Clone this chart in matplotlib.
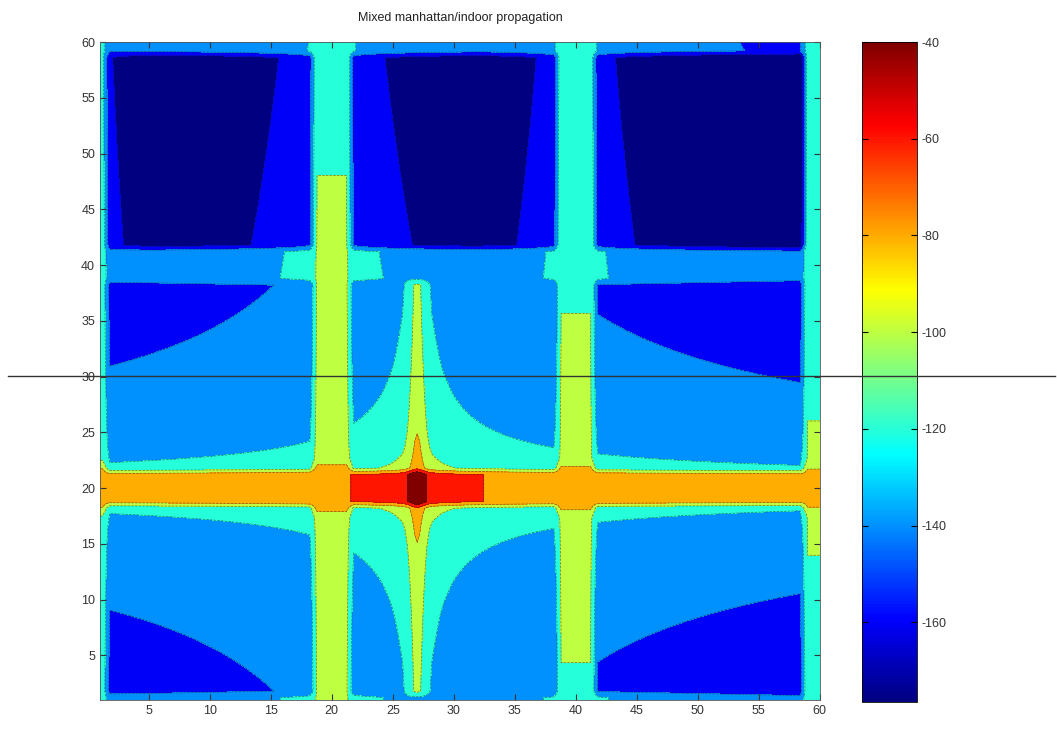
import numpy as np
import matplotlib
matplotlib.use("Agg")
import matplotlib.pyplot as plt
from matplotlib.colors import Normalize, ListedColormap
from matplotlib.lines import Line2D

# map layout (metres), transmitter in the main street
cells = np.arange(1, 61)
tx = (27, 20)
main_street = (18.5, 21.5)
cross_streets_x = [(0, 1.5), (18.5, 21.5), (38.5, 41.5), (58.7, 61)]
cross_centre = [1, 20, 40, 60]
cross_half = [0, 1, 1, 0.5]
corner_loss = [29.5, 29.3, 28.3, 24.0]
cross_feeds_indoor = [True, True, True, False]
side_streets_y = [(0, 1.5), (38.5, 41.5), (58.8, 61)]
side_row_feeders = [1, 2]  # reached round the corner from the x=20 / x=40 streets
blocks_x = [(1.5, 18.5), (21.5, 38.5), (41.5, 58.7)]
blocks_y = [(1.5, 18.5), (21.5, 38.5), (41.5, 58.8)]

# propagation parameters (dB) fitted to the picture
los_ref = -46.8
los_exp = 18.0
tx_cell_level = -18.0
street_decay = 0.31
corner_ramp = 1.0
side_corner_loss = 10.9
side_exp = 19.1
wall_loss = 41.5
indoor_exp = 26.0

levels = [-160, -140, -120, -100, -80, -60, -40]
clim = (-176.5, -40)
cbar_ticks = [-160, -140, -120, -100, -80, -60, -40]
xy_ticks = [5, 10, 15, 20, 25, 30, 35, 40, 45, 50, 55, 60]


def los(x):
    d = abs(x - tx[0])
    if d == 0:
        return tx_cell_level
    return los_ref - los_exp * np.log10(d)


los_cells = np.array([los(c) for c in cells])


def los_line(x):
    return np.interp(x, cells, los_cells)


def cross_value(j, y):
    dy = np.abs(y - tx[1])
    ramp = np.clip((dy - 1.5) / corner_ramp, 0, 1)
    return los(cross_centre[j]) - corner_loss[j] * ramp - street_decay * dy


def row_value(x, y):
    best = np.full(np.shape(x), -np.inf)
    for j in side_row_feeders:
        dx = np.maximum(0, np.abs(x - cross_centre[j]) - cross_half[j])
        v = cross_value(j, y) - side_corner_loss - side_exp * np.log10(1 + dx)
        best = np.maximum(best, v)
    return best


def inside(v, iv):
    return (v >= iv[0]) & (v <= iv[1])


def street_field(x, y):
    x, y = np.broadcast_arrays(np.asarray(x, float), np.asarray(y, float))
    z = np.full(x.shape, -np.inf)
    on = np.zeros(x.shape, bool)
    feed = np.zeros(x.shape, bool)
    for iv in side_streets_y:
        m = inside(y, iv)
        z = np.where(m, row_value(x, y), z)
        on |= m
        feed |= m
    for j, iv in enumerate(cross_streets_x):
        m = inside(x, iv)
        cv = cross_value(j, y)
        z = np.where(m, np.where(on, np.maximum(z, cv), cv), z)
        on |= m
        feed = np.where(m, cross_feeds_indoor[j], feed)
    m = inside(y, main_street)
    z = np.where(m, los_line(x), z)
    on |= m
    feed |= m
    return z, on, feed


step = 0.2
xs = np.arange(1, 60 + step / 2, step)
X, Y = np.meshgrid(xs, xs)
Z, on_street, _ = street_field(X, Y)

# indoor: wall loss plus distance from each neighbouring street
for bx0, bx1 in blocks_x:
    for by0, by1 in blocks_y:
        m = inside(X, (bx0, bx1)) & inside(Y, (by0, by1)) & ~on_street
        sources = [
            (street_field(bx0 - 0.5, Y), X - bx0),
            (street_field(bx1 + 0.5, Y), bx1 - X),
            (street_field(X, by0 - 0.5), Y - by0),
            (street_field(X, by1 + 0.5), by1 - Y),
        ]
        best = np.full(X.shape, -np.inf)
        for (sz, _, sf), dist in sources:
            k = np.maximum(dist, 0) + 1
            cand = np.where(sf, sz - wall_loss - indoor_exp * np.log10(k), -np.inf)
            best = np.maximum(best, cand)
        Z[m] = best[m]

# light 3x3 smoothing, like the interpolation of the original coarse grid
Zp = np.pad(Z, 1, mode="edge")
Z = sum(Zp[1 + i:Zp.shape[0] - 1 + i, 1 + j:Zp.shape[1] - 1 + j]
        for i in (-1, 0, 1) for j in (-1, 0, 1)) / 9.0

# MATLAB style jet
t = np.linspace(0, 1, 256)
jet = ListedColormap(np.clip(np.stack([1.5 - np.abs(4 * t - 3),
                                       1.5 - np.abs(4 * t - 2),
                                       1.5 - np.abs(4 * t - 1)], axis=1), 0, 1))
norm = Normalize(*clim)
band_colors = [jet(0.0)] + [jet(float(norm(l))) for l in levels]

plt.rcParams["font.family"] = ["Liberation Sans", "DejaVu Sans"]
plt.rcParams["axes.unicode_minus"] = False

fig = plt.figure(figsize=(10.57, 7.33), dpi=100)
ax = fig.add_axes([0.0946, 0.045, 0.681, 0.8977])
ax.contourf(X, Y, Z, levels=[-1000] + levels + [1000], colors=band_colors)
ax.contour(X, Y, Z, levels=levels, colors="#202020", linewidths=0.5, alpha=0.6)
ax.set_xlim(1, 60)
ax.set_ylim(1, 60)
ax.set_xticks(xy_ticks)
ax.set_yticks(xy_ticks)
ax.tick_params(direction="in", top=True, right=True, length=4, labelsize=9,
               labelcolor="#333333", color="#333333")
for s in ax.spines.values():
    s.set_linewidth(0.6)
    s.set_color("#555555")
ax.set_title("Mixed manhattan/indoor propagation", fontsize=9, color="#222222", pad=15)

cax = fig.add_axes([0.8155, 0.0423, 0.052, 0.9004])
cb = fig.colorbar(plt.cm.ScalarMappable(norm=norm, cmap=jet), cax=cax)
cb.set_ticks(cbar_ticks)
cb.ax.tick_params(direction="in", length=4, labelsize=9, labelcolor="#333333",
                  left=True, right=True)
cb.outline.set_linewidth(0.6)

fig.add_artist(Line2D([8 / 1057, 1055 / 1057], [1 - 376 / 733] * 2,
                      color="#333333", linewidth=1))

fig.savefig("out.png", dpi=100)
